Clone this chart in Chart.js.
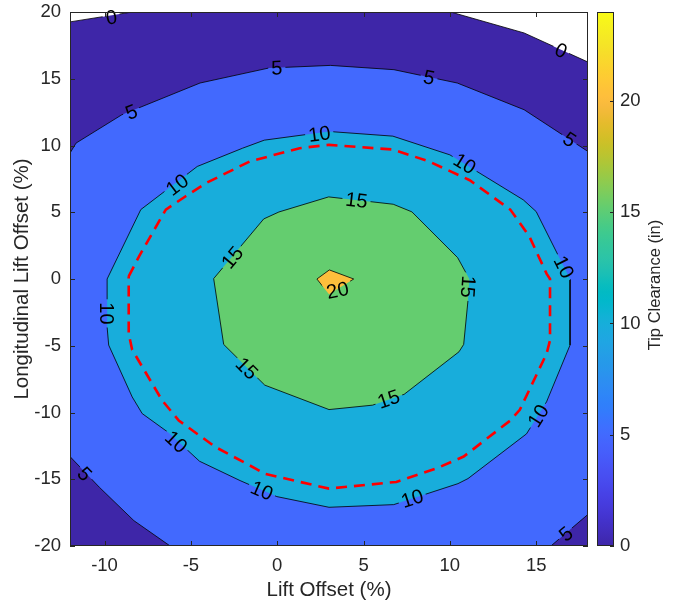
<!DOCTYPE html>
<html>
<head>
<meta charset="utf-8">
<title>Tip Clearance</title>
<script src="https://cdn.jsdelivr.net/npm/chart.js@4"></script>
<style>
  html, body { margin: 0; padding: 0; background: #fff; }
  #wrap { position: relative; width: 676px; height: 604px; }
  #main { position: absolute; left: 0; top: 0; }
  #cbar { position: absolute; left: 590px; top: 0; }
</style>
</head>
<body>
<div id="wrap">
  <canvas id="main" width="676" height="604"></canvas>
  <canvas id="cbar" width="86" height="604"></canvas>
</div>
<script>
// ---- axes ----
const xRange = [-12, 18];
const yRange = [-20, 20];
const xTicks = [-10, -5, 0, 5, 10, 15];
const yTicks = [-20, -15, -10, -5, 0, 5, 10, 15, 20];
const cbarRange = [0, 24];
const cbarTicks = [0, 5, 10, 15, 20];

// ---- contour levels (tip clearance, in) ----
const levels = [0, 5, 10, 15, 20];

// ---- contour lines, [lift offset %, longitudinal lift offset %] ----
const c0Left = [[-12, 19.26], [-8.4, 20]];
const c0Right = [[10.05, 20], [14.3, 18.43], [18, 16.25]];
const c5Top = [[-12, 9.43], [-11.65, 10.18], [-9, 12.3], [-4.47, 14.68], [-0.5, 15.8], [3.08, 16.0],
               [6.76, 15.68], [10.43, 14.68], [14.3, 12.68], [18, 9.55]];
const c5BotLeft = [[-12, -13.3], [-10.3, -15.6], [-8.3, -18.1], [-6.2, -20]];
const c5BotRight = [[15.85, -20], [18, -17.63]];
const c10 = [[-9.85, -3.6], [-9.85, 0], [-7.9, 5.2], [-4.63, 8.43], [-2.0, 9.8], [-0.75, 10.4],
             [3.0, 11.05], [6.7, 10.7], [10.0, 9.3], [14.25, 5.93], [15.0, 5.05], [16.96, 0],
             [16.96, -4.95], [15.6, -9.2], [14.44, -11.6], [11.05, -14.95], [10.47, -15.33],
             [6.75, -16.9], [3.0, -17.1], [-0.02, -16.3], [-2.15, -15.1], [-4.5, -13.65],
             [-6.3, -11.5], [-7.82, -10.08], [-8.4, -8.83], [-9.76, -4.95]];
const c15 = [[2.98, 6.15], [6.72, 5.6], [7.8, 5.03], [10.45, 1.6], [11.13, 0], [11.05, -1.6],
             [10.8, -4.9], [10.53, -5.45], [7.35, -8.64], [5.52, -9.45], [3.0, -9.78],
             [-0.72, -7.95], [-3.1, -4.9], [-3.68, 0.03], [-0.78, 4.5], [0.1, 5.02]];
const c20 = [[2.3, 0], [3.02, 0.68], [4.43, 0], [3.0, -1.15]];

// ---- clearance limit contour (dashed) ----
const cLimit = [[-8.6, 0.2], [-8.0, 1.7], [-6.45, 5.2], [-5.3, 6.2], [-4.1, 7.2], [-1.6, 8.8],
                [1.3, 9.8], [3.0, 10.05], [6.7, 9.7], [8.8, 8.8], [11.15, 7.4], [13.5, 5.2],
                [14.6, 3.2], [15.6, 0.4], [15.8, 0], [15.8, -4.6], [15.6, -5.6], [14.05, -9.8],
                [13.5, -10.6], [10.8, -13.3], [9.2, -14.2], [6.9, -15.2], [3.0, -15.7],
                [-0.7, -14.6], [-1.25, -14.2], [-3.56, -12.6], [-5.7, -10.6], [-6.66, -9.1],
                [-8.4, -5.3], [-8.6, -4.1]];

// ---- inline contour labels: [x, y, text, optional fixed angle in degrees] ----
const contourLabels = [
  [-9.6, 19.6, '0'], [16.43, 17.1, '0'],
  [-8.44, 12.5, '5'], [-0.02, 15.8, '5'], [8.79, 15.1, '5'], [16.92, 10.45, '5'],
  [-11.15, -14.6, '5'], [16.72, -19.1, '5'],
  [2.44, 10.85, '10'], [-5.79, 7.05, '10'], [10.86, 8.63, '10'], [16.6, 0.9, '10'],
  [15.12, -10.25, '10'], [7.82, -16.45, '10'], [-0.89, -15.85, '10'], [-5.85, -12.2, '10'],
  [-9.9, -2.58, '10'],
  [4.59, 5.9, '15'], [11.05, -0.58, '15'], [6.46, -9.0, '15'], [-1.76, -6.7, '15'], [-2.6, 1.6, '15'],
  [3.5, -0.85, '20', -12]
];

// ---- parula colormap ----
const PARULA = [
  [0.2422,0.1504,0.6603],[0.2504,0.1650,0.7076],[0.2578,0.1818,0.7511],[0.2647,0.1978,0.7952],
  [0.2706,0.2147,0.8364],[0.2751,0.2342,0.8710],[0.2783,0.2559,0.8991],[0.2803,0.2782,0.9221],
  [0.2813,0.3006,0.9414],[0.2810,0.3228,0.9579],[0.2795,0.3447,0.9717],[0.2760,0.3667,0.9829],
  [0.2699,0.3892,0.9906],[0.2602,0.4123,0.9952],[0.2440,0.4358,0.9988],[0.2206,0.4603,0.9973],
  [0.1963,0.4847,0.9892],[0.1834,0.5074,0.9798],[0.1786,0.5289,0.9682],[0.1764,0.5499,0.9520],
  [0.1687,0.5703,0.9359],[0.1540,0.5902,0.9218],[0.1460,0.6091,0.9079],[0.1380,0.6276,0.8973],
  [0.1248,0.6459,0.8883],[0.1113,0.6635,0.8763],[0.0952,0.6798,0.8598],[0.0689,0.6948,0.8394],
  [0.0297,0.7082,0.8163],[0.0036,0.7203,0.7917],[0.0067,0.7312,0.7660],[0.0433,0.7411,0.7394],
  [0.0964,0.7500,0.7120],[0.1408,0.7584,0.6842],[0.1717,0.7670,0.6554],[0.1938,0.7758,0.6251],
  [0.2161,0.7843,0.5923],[0.2470,0.7918,0.5567],[0.2906,0.7973,0.5188],[0.3406,0.8008,0.4789],
  [0.3909,0.8029,0.4354],[0.4456,0.8024,0.3909],[0.5044,0.7993,0.3480],[0.5616,0.7942,0.3045],
  [0.6174,0.7876,0.2612],[0.6720,0.7793,0.2227],[0.7242,0.7698,0.1910],[0.7738,0.7598,0.1646],
  [0.8203,0.7498,0.1535],[0.8634,0.7406,0.1596],[0.9035,0.7330,0.1774],[0.9393,0.7288,0.2100],
  [0.9728,0.7298,0.2394],[0.9956,0.7434,0.2371],[0.9970,0.7659,0.2199],[0.9952,0.7893,0.2028],
  [0.9892,0.8136,0.1885],[0.9786,0.8386,0.1766],[0.9676,0.8639,0.1643],[0.9610,0.8890,0.1537],
  [0.9597,0.9135,0.1423],[0.9628,0.9373,0.1265],[0.9691,0.9606,0.1064],[0.9769,0.9839,0.0805]
];
const rgb = c => `rgb(${Math.round(c[0]*255)},${Math.round(c[1]*255)},${Math.round(c[2]*255)})`;
function levelColor(v) {
  const t = (v - cbarRange[0]) / (cbarRange[1] - cbarRange[0]);
  const i = Math.min(PARULA.length - 1, Math.max(0, Math.floor(t * PARULA.length)));
  return rgb(PARULA[i]);
}

const AXIS_COLOR = '#262626';
const FONT = "'Liberation Sans', Arial, Helvetica, sans-serif";
const TICK_SIZE = 18.5;
const TITLE_SIZE = 20.5;
const LABEL_SIZE = 20;

const toXY = pts => pts.map(([x, y]) => ({x, y}));
const closed = pts => pts.concat([pts[0]]);

// filled bands: each polygon covers the area at or above its level
const [xMin, xMax] = xRange;
const [yMin, yMax] = yRange;
const band0 = [[xMin, yMin], ...c0Left, ...c0Right, [xMax, yMin]];
const band5 = [...c5Top, ...c5BotRight.slice().reverse(), ...c5BotLeft.slice().reverse()];
const bands = [[levels[0], band0], [levels[1], band5], [levels[2], c10], [levels[3], c15], [levels[4], c20]];

const datasets = [];
bands.forEach(([lev, poly], i) => {
  datasets.push({
    data: toXY(closed(poly)), showLine: true, fill: 'shape',
    backgroundColor: levelColor(lev), borderColor: 'rgba(0,0,0,0)', borderWidth: 0,
    pointRadius: 0, pointHoverRadius: 0, clip: 0, order: 20 - i
  });
});
const blackLines = [c0Left, c0Right, c5Top, c5BotLeft, c5BotRight, closed(c10), closed(c15), closed(c20)];
blackLines.forEach(line => {
  datasets.push({
    data: toXY(line), showLine: true, fill: false, contourLine: true,
    borderColor: '#000', borderWidth: 0.8, pointRadius: 0, pointHoverRadius: 0, clip: 0, order: 5
  });
});
datasets.push({
  data: toXY(closed(cLimit)), showLine: true, fill: false,
  borderColor: '#ff0000', borderWidth: 2.6, borderDash: [11, 7], borderCapStyle: 'butt',
  pointRadius: 0, pointHoverRadius: 0, clip: 0, order: 1
});

// label placement: centre from data, angle follows the nearest contour segment
function labelGeometry(chart) {
  const xs = chart.scales.x, ys = chart.scales.y;
  const px = p => [xs.getPixelForValue(p[0]), ys.getPixelForValue(p[1])];
  const ctx = chart.ctx;
  ctx.save();
  ctx.font = `${LABEL_SIZE}px ${FONT}`;
  const out = contourLabels.map(([x, y, text, fixed]) => {
    const [cx, cy] = px([x, y]);
    let best = Infinity, ang = 0;
    blackLines.forEach(line => {
      for (let k = 0; k < line.length - 1; k++) {
        const [ax, ay] = px(line[k]), [bx, by] = px(line[k + 1]);
        const dx = bx - ax, dy = by - ay, L2 = dx * dx + dy * dy || 1;
        let t = ((cx - ax) * dx + (cy - ay) * dy) / L2;
        t = Math.max(0, Math.min(1, t));
        const d = Math.hypot(ax + t * dx - cx, ay + t * dy - cy);
        if (d < best) { best = d; ang = Math.atan2(dy, dx); }
      }
    });
    let deg = fixed !== undefined ? fixed : ang * 180 / Math.PI;
    while (deg > 95) deg -= 180;
    while (deg <= -85) deg += 180;
    return {cx, cy, text, a: deg * Math.PI / 180, w: ctx.measureText(text).width};
  });
  ctx.restore();
  return out;
}

const labelGaps = {
  id: 'labelGaps',
  beforeDatasetDraw(chart, args) {
    const ds = chart.data.datasets[args.index];
    if (!ds.contourLine) return;
    const ctx = chart.ctx, a = chart.chartArea;
    ctx.save();
    ctx.beginPath();
    ctx.rect(a.left - 5, a.top - 5, a.right - a.left + 10, a.bottom - a.top + 10);
    labelGeometry(chart).forEach(g => {
      const hw = g.w / 2 + 3, hh = LABEL_SIZE * 0.42;
      const c = Math.cos(g.a), s = Math.sin(g.a);
      const corners = [[-hw, -hh], [hw, -hh], [hw, hh], [-hw, hh]].map(([u, v]) => [g.cx + u * c - v * s, g.cy + u * s + v * c]);
      ctx.moveTo(corners[0][0], corners[0][1]);
      for (let k = 1; k < 4; k++) ctx.lineTo(corners[k][0], corners[k][1]);
      ctx.closePath();
    });
    ctx.clip('evenodd');
  },
  afterDatasetDraw(chart, args) {
    const ds = chart.data.datasets[args.index];
    if (ds.contourLine) chart.ctx.restore();
  }
};

const contourText = {
  id: 'contourText',
  afterDatasetsDraw(chart) {
    const ctx = chart.ctx;
    ctx.save();
    ctx.font = `${LABEL_SIZE}px ${FONT}`;
    ctx.fillStyle = '#000';
    ctx.textAlign = 'center';
    ctx.textBaseline = 'middle';
    labelGeometry(chart).forEach(g => {
      ctx.save();
      ctx.translate(g.cx, g.cy);
      ctx.rotate(g.a);
      ctx.fillText(g.text, 0, 1);
      ctx.restore();
    });
    ctx.restore();
  }
};

// axes box with inward tick marks on all four sides
const axesBox = {
  id: 'axesBox',
  afterDraw(chart) {
    const ctx = chart.ctx, a = chart.chartArea;
    const xs = chart.scales.x, ys = chart.scales.y;
    const L = 5;
    ctx.save();
    ctx.strokeStyle = AXIS_COLOR;
    ctx.lineWidth = 1;
    ctx.beginPath();
    xTicks.forEach(v => {
      const p = Math.round(xs.getPixelForValue(v)) + 0.5;
      ctx.moveTo(p, a.bottom); ctx.lineTo(p, a.bottom - L);
      ctx.moveTo(p, a.top); ctx.lineTo(p, a.top + L);
    });
    yTicks.forEach(v => {
      const p = Math.round(ys.getPixelForValue(v)) + 0.5;
      ctx.moveTo(a.left, p); ctx.lineTo(a.left + L, p);
      ctx.moveTo(a.right, p); ctx.lineTo(a.right - L, p);
    });
    ctx.stroke();
    ctx.strokeRect(a.left + 0.5, a.top + 0.5, a.right - a.left - 1, a.bottom - a.top - 1);
    ctx.restore();
  }
};

new Chart(document.getElementById('main'), {
  type: 'scatter',
  data: { datasets },
  options: {
    responsive: false,
    animation: false,
    devicePixelRatio: 1,
    events: [],
    layout: { padding: { left: 0, right: 88, top: 12, bottom: 0 } },
    plugins: { legend: { display: false }, tooltip: { enabled: false } },
    scales: {
      x: {
        type: 'linear', min: xMin, max: xMax,
        afterBuildTicks: s => { s.ticks = xTicks.map(v => ({value: v})); },
        afterFit: s => { s.height = 58; s.paddingLeft = 0; s.paddingRight = 0; },
        grid: { display: false, drawTicks: false },
        border: { display: false },
        ticks: { color: AXIS_COLOR, font: { family: FONT, size: TICK_SIZE }, padding: 9, maxRotation: 0 },
        title: { display: true, text: 'Lift Offset (%)', color: AXIS_COLOR,
                 font: { family: FONT, size: TITLE_SIZE }, padding: { top: 1, bottom: 1 } }
      },
      y: {
        type: 'linear', min: yMin, max: yMax,
        afterBuildTicks: s => { s.ticks = yTicks.map(v => ({value: v})); },
        afterFit: s => { s.width = 70; s.paddingTop = 0; s.paddingBottom = 0; },
        grid: { display: false, drawTicks: false },
        border: { display: false },
        ticks: { color: AXIS_COLOR, font: { family: FONT, size: TICK_SIZE }, padding: 9 },
        title: { display: true, text: 'Longitudinal Lift Offset (%)', color: AXIS_COLOR,
                 font: { family: FONT, size: TITLE_SIZE }, padding: { top: 9.7, bottom: 9.7 } }
      }
    }
  },
  plugins: [labelGaps, contourText, axesBox]
});

// ---- colour bar ----
const cbarFrame = {
  id: 'cbarFrame',
  afterDraw(chart) {
    const ctx = chart.ctx, a = chart.chartArea, ys = chart.scales.y;
    ctx.save();
    ctx.strokeStyle = AXIS_COLOR;
    ctx.lineWidth = 1;
    ctx.beginPath();
    cbarTicks.forEach(v => {
      const p = Math.round(ys.getPixelForValue(v)) + 0.5;
      ctx.moveTo(a.right, p); ctx.lineTo(a.right - 4, p);
    });
    ctx.stroke();
    ctx.strokeRect(a.left + 0.5, a.top + 0.5, a.right - a.left - 1, a.bottom - a.top - 1);
    ctx.translate(65, (a.top + a.bottom) / 2 + 6);
    ctx.rotate(-Math.PI / 2);
    ctx.fillStyle = AXIS_COLOR;
    ctx.font = `16.5px ${FONT}`;
    ctx.textAlign = 'center';
    ctx.textBaseline = 'middle';
    ctx.fillText('Tip Clearance (in)', 0, 0);
    ctx.restore();
  }
};

new Chart(document.getElementById('cbar'), {
  type: 'bar',
  data: {
    labels: ['Tip Clearance (in)'],
    datasets: [{
      data: [cbarRange.slice()],
      backgroundColor: c => {
        const a = c.chart.chartArea;
        if (!a) return levelColor(0);
        const g = c.chart.ctx.createLinearGradient(0, a.bottom, 0, a.top);
        PARULA.forEach((row, i) => g.addColorStop(i / (PARULA.length - 1), rgb(row)));
        return g;
      },
      borderWidth: 0, barPercentage: 1, categoryPercentage: 1
    }]
  },
  options: {
    responsive: false,
    animation: false,
    devicePixelRatio: 1,
    events: [],
    layout: { padding: { left: 7, right: 0, top: 12, bottom: 58 } },
    plugins: { legend: { display: false }, tooltip: { enabled: false } },
    scales: {
      x: { display: false },
      y: {
        position: 'right', min: cbarRange[0], max: cbarRange[1],
        afterBuildTicks: s => { s.ticks = cbarTicks.map(v => ({value: v})); },
        afterFit: s => { s.width = 62; s.paddingTop = 0; s.paddingBottom = 0; },
        grid: { display: false, drawTicks: false },
        border: { display: false },
        ticks: { color: AXIS_COLOR, font: { family: FONT, size: TICK_SIZE }, padding: 6 }
      }
    }
  },
  plugins: [cbarFrame]
});
</script>
</body>
</html>
